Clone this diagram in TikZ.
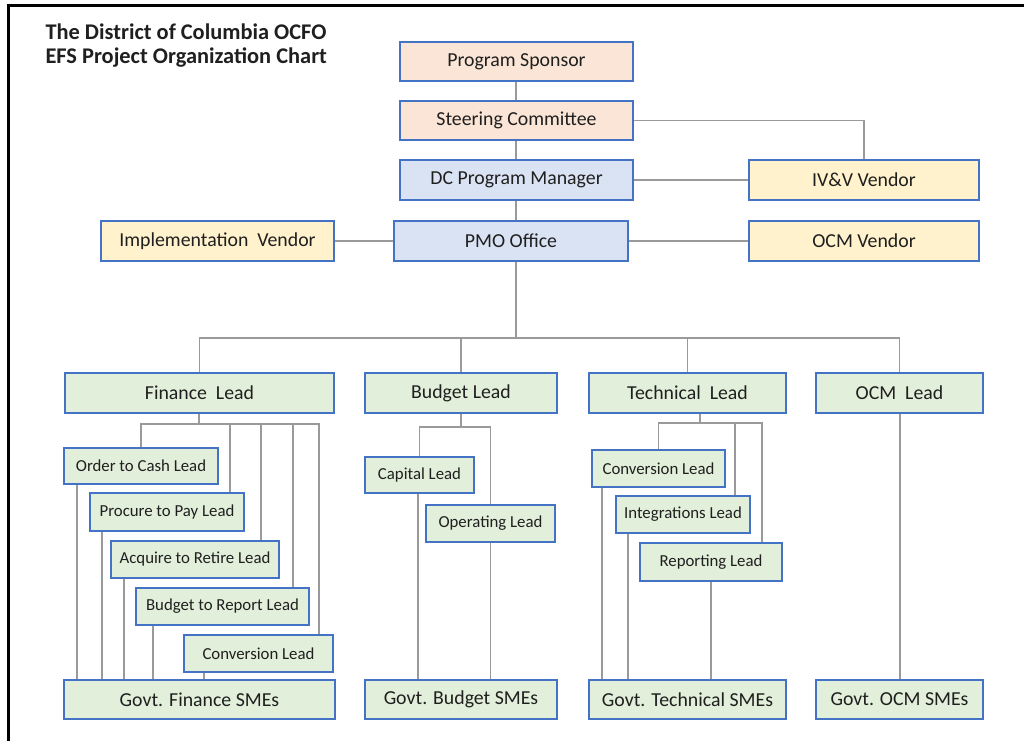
\documentclass[tikz,border=0pt]{standalone}
\usepackage{fontspec}
\setmainfont{Carlito}
\definecolor{bxborder}{HTML}{4472C4}
\definecolor{peach}{HTML}{FBE5D6}
\definecolor{paleblue}{HTML}{DAE3F3}
\definecolor{paleyellow}{HTML}{FFF2CC}
\definecolor{palegreen}{HTML}{E2EFDA}
\definecolor{linegray}{HTML}{9A9A9A}
\tikzset{
  box/.style={draw=bxborder, line width=1.2pt, inner sep=0pt, align=center, text=black!88},
  bigtxt/.style={font=\fontsize{19.8}{21}\selectfont},
  smalltxt/.style={font=\fontsize{16.8}{18}\selectfont},
  conn/.style={draw=linegray, line width=1.4pt},
}
% \bx{name}{x1}{y1}{x2}{y2}{style}{text}
\newcommand{\bx}[7]{\node[box,#6,minimum width={(#4-#2)*1pt},minimum height={(#5-#3)*1pt}] (#1) at ({(#2+#4)/2},{(#3+#5)/2}) {#7};}
\begin{document}
\begin{tikzpicture}[x=1pt,y=-1pt]
\useasboundingbox (0,0) rectangle (1024,741);
% frame
\draw[line width=3pt,black] (8,741) -- (8,6) -- (1024,6);
% title
\node[anchor=west,font=\bfseries\fontsize{22.4}{24}\selectfont,align=left,text=black!88] (title) at (42,46) {The District of Columbia OCFO\\EFS Project Organization Chart};
% top boxes
\bx{ps}{400}{42}{633}{81}{bigtxt,fill=peach}{Program Sponsor}
\bx{sc}{400}{101}{633}{140}{bigtxt,fill=peach}{Steering Committee}
\bx{dcpm}{400}{160}{633}{200}{bigtxt,fill=paleblue}{DC Program Manager}
\bx{ivv}{749}{160}{979}{200}{bigtxt,fill=paleyellow}{IV\&V Vendor}
\bx{pmo}{394}{221}{628}{261}{bigtxt,fill=paleblue}{PMO Office}
\bx{impl}{101}{221}{334}{261}{bigtxt,fill=paleyellow}{Implementation~~Vendor}
\bx{ocmv}{749}{221}{979}{261}{bigtxt,fill=paleyellow}{OCM Vendor}
% level 2
\bx{fl}{65}{373}{334}{413}{bigtxt,fill=palegreen}{Finance~~Lead}
\bx{bl}{365}{373}{557}{413}{bigtxt,fill=palegreen}{Budget Lead}
\bx{tl}{589}{373}{786}{413}{bigtxt,fill=palegreen}{Technical~~Lead}
\bx{ol}{816}{373}{983}{413}{bigtxt,fill=palegreen}{OCM~~Lead}
% finance children
\bx{otc}{64}{448}{218}{484}{smalltxt,fill=palegreen}{Order to Cash Lead}
\bx{p2p}{90}{493}{244}{531}{smalltxt,fill=palegreen}{Procure to Pay Lead}
\bx{a2r}{111}{541}{279}{578}{smalltxt,fill=palegreen}{Acquire to Retire Lead}
\bx{b2r}{136}{588}{309}{625}{smalltxt,fill=palegreen}{Budget to Report Lead}
\bx{fcv}{184}{635}{333}{672}{smalltxt,fill=palegreen}{Conversion Lead}
\bx{fsme}{64}{680}{335}{719}{bigtxt,fill=palegreen}{Govt. Finance SMEs}
% budget children
\bx{cap}{365}{457}{474}{493}{smalltxt,fill=palegreen}{Capital Lead}
\bx{opl}{426}{505}{555}{542}{smalltxt,fill=palegreen}{Operating Lead}
\bx{bsme}{365}{680}{557}{719}{bigtxt,fill=palegreen}{Govt. Budget SMEs}
% technical children
\bx{tcv}{592}{450}{725}{487}{smalltxt,fill=palegreen}{Conversion Lead}
\bx{int}{616}{496}{750}{533}{smalltxt,fill=palegreen}{Integrations Lead}
\bx{rep}{640}{543}{782}{581}{smalltxt,fill=palegreen}{Reporting Lead}
\bx{tsme}{589}{680}{786}{719}{bigtxt,fill=palegreen}{Govt. Technical SMEs}
% ocm
\bx{osme}{816}{680}{983}{719}{bigtxt,fill=palegreen}{Govt. OCM SMEs}
% coordinates for buses
\coordinate (mb) at (516,338);
\coordinate (fb) at (199,424);
\coordinate (bb) at (461,427);
\coordinate (tb) at (700,423);
% top connectors
\draw[conn] (ps.south -| mb) -- (sc.north -| mb);
\draw[conn] (sc.south -| mb) -- (dcpm.north -| mb);
\draw[conn] (dcpm.south -| mb) -- (pmo.north -| mb);
\draw[conn] (sc.east) -| (ivv.north);
\draw[conn] (dcpm.east) -- (ivv.west);
\draw[conn] (pmo.west) -- (impl.east);
\draw[conn] (pmo.east) -- (ocmv.west);
\draw[conn] (pmo.south -| mb) -- (mb);
\draw[conn] (fl.north) |- (mb) -| (ol.north);
\draw[conn] (bl.north) -- (bl.north |- mb);
\draw[conn] (tl.north) -- (tl.north |- mb);
% finance
\draw[conn] (fl.south -| fb) -- (fb);
\draw[conn] (otc.north) |- (fb) -| (fcv.north -| 319,0);
\draw[conn] (p2p.north -| 230,0) -- (fb -| 230,0);
\draw[conn] (a2r.north -| 261,0) -- (fb -| 261,0);
\draw[conn] (b2r.north -| 293,0) -- (fb -| 293,0);
\draw[conn] (otc.south -| 77,0) -- (fsme.north -| 77,0);
\draw[conn] (p2p.south -| 102,0) -- (fsme.north -| 102,0);
\draw[conn] (a2r.south -| 124,0) -- (fsme.north -| 124,0);
\draw[conn] (b2r.south -| 153,0) -- (fsme.north -| 153,0);
\draw[conn] (fcv.south -| 204,0) -- (fsme.north -| 204,0);
% budget
\draw[conn] (bl.south -| bb) -- (bb);
\draw[conn] (cap.north) |- (bb) -| (opl.north);
\draw[conn] (cap.south -| 418,0) -- (bsme.north -| 418,0);
\draw[conn] (opl.south) -- (bsme.north -| opl.south);
% technical
\draw[conn] (tl.south -| tb) -- (tb);
\draw[conn] (tcv.north) |- (tb) -| (rep.north -| 762,0);
\draw[conn] (int.north -| 735,0) -- (tb -| 735,0);
\draw[conn] (tcv.south -| 602,0) -- (tsme.north -| 602,0);
\draw[conn] (int.south -| 628,0) -- (tsme.north -| 628,0);
\draw[conn] (rep.south) -- (tsme.north -| rep.south);
% ocm
\draw[conn] (ol.south -| 900,0) -- (osme.north -| 900,0);
\end{tikzpicture}
\end{document}
